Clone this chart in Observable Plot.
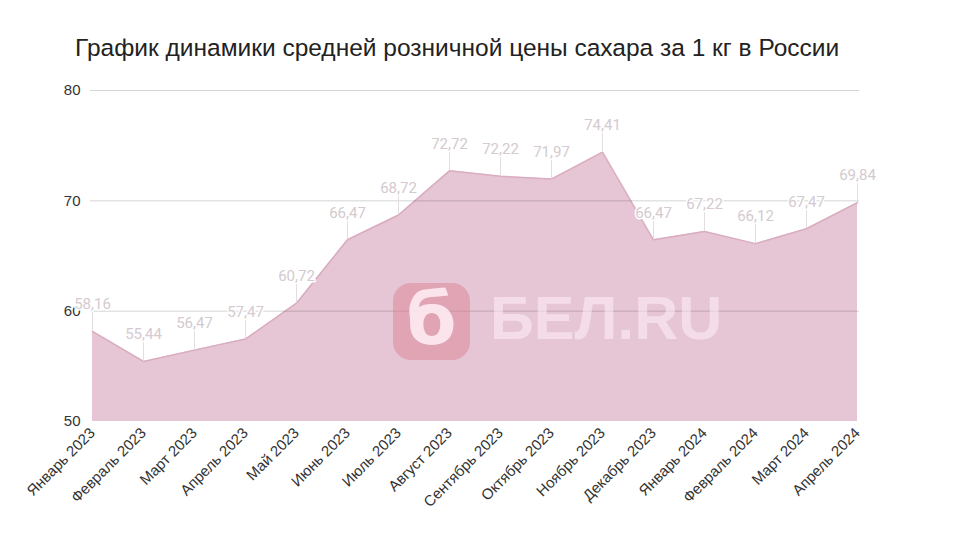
<!DOCTYPE html>
<html>
<head>
<meta charset="utf-8">
<script src="https://cdn.jsdelivr.net/npm/d3@7"></script>
<script src="https://cdn.jsdelivr.net/npm/@observablehq/plot@0.6"></script>
<style>
  html, body { margin: 0; padding: 0; background: #fff; }
  #wrap { position: relative; width: 964px; height: 545px; overflow: hidden; }
  #title { position: absolute; left: 75px; top: 34px; font-family: "Liberation Sans", Arial, sans-serif; font-size: 24.5px; color: #222; white-space: nowrap; }
  #chart { position: absolute; left: 0; top: 0; }
  #wm-box { position: absolute; left: 393px; top: 283px; width: 77px; height: 77px; border-radius: 18px; background: rgba(220,130,148,0.5); color: rgba(255,240,246,0.85); font-family: "DejaVu Sans", sans-serif; font-weight: bold; font-size: 72px; line-height: 72px; text-align: center; }
  #wm-text { position: absolute; left: 490px; top: 283px; font-family: "Liberation Sans", Arial, sans-serif; font-weight: bold; font-size: 61px; color: rgba(255,240,248,0.55); white-space: nowrap; }
</style>
</head>
<body>
<div id="wrap">
  <div id="chart"></div>
  <div id="wm-box">б</div>
  <div id="wm-text">БЕЛ.RU</div>
  <div id="title">График динамики средней розничной цены сахара за 1 кг в России</div>
</div>
<script>
const months = ["Январь 2023","Февраль 2023","Март 2023","Апрель 2023","Май 2023","Июнь 2023","Июль 2023","Август 2023","Сентябрь 2023","Октябрь 2023","Ноябрь 2023","Декабрь 2023","Январь 2024","Февраль 2024","Март 2024","Апрель 2024"];
const prices = [58.16,55.44,56.47,57.47,60.72,66.47,68.72,72.72,72.22,71.97,74.41,66.47,67.22,66.12,67.47,69.84];
const yTicks = [50,60,70,80];

const data = months.map((m, i) => ({month: m, value: prices[i], label: prices[i].toFixed(2).replace(".", ",")}));

const chart = Plot.plot({
  width: 964,
  height: 545,
  marginTop: 90,
  marginBottom: 124,
  marginLeft: 90,
  marginRight: 105,
  style: {fontFamily: "'Liberation Sans', Arial, sans-serif", fontSize: "15px", color: "#333", background: "transparent"},
  x: {type: "point", domain: months, padding: 0, label: null, tickRotate: -45, tickSize: 0, tickPadding: 9},
  y: {domain: [50, 80], ticks: yTicks, label: null, tickSize: 0, tickPadding: 10},
  marks: [
    Plot.areaY(data, {x: "month", y1: 50, y2: "value", fill: "#e6c6d4"}),
    Plot.lineY(data, {x: "month", y: "value", stroke: "#d9adbf", strokeWidth: 1.5}),
    Plot.gridY(yTicks.filter(t => t > 50), {stroke: "#000", strokeOpacity: 0.17, strokeWidth: 1}),
    Plot.ruleX(data, {x: "month", y1: "value", y2: "value", insetTop: -19, stroke: "#e4dde0", strokeWidth: 1}),
    Plot.text(data, {x: "month", y: "value", text: "label", dy: -27, fill: "#d4cacf", stroke: "white", strokeWidth: 3, fontSize: 15, fontFamily: "Roboto, sans-serif"})
  ]
});
document.getElementById("chart").appendChild(chart);
</script>
</body>
</html>
